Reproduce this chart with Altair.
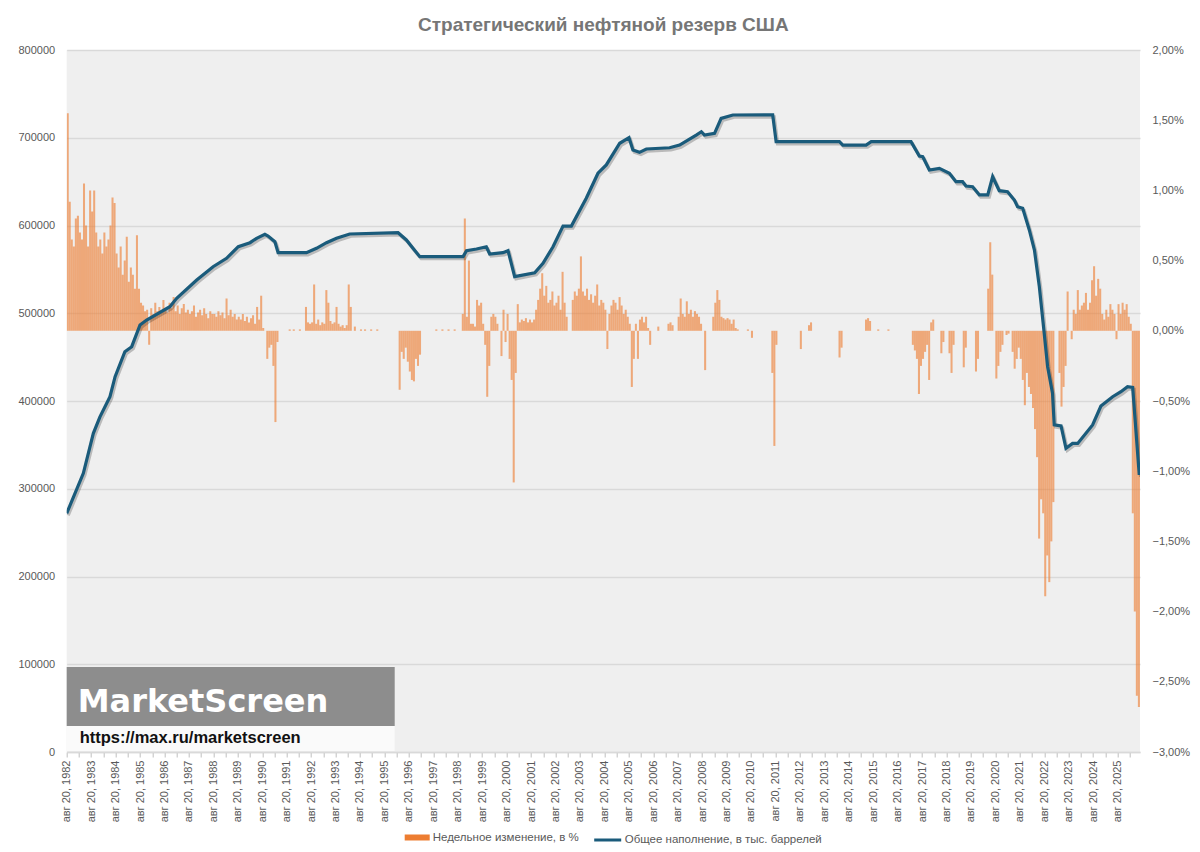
import altair as alt
import pandas as pd

FONT = "Liberation Sans"
TITLE = "Стратегический нефтяной резерв США"
BAR_NAME = "Недельное изменение, в %"
LINE_NAME = "Общее наполнение, в тыс. баррелей"
BAR_COLOR = "#ED7D31"
LINE_COLOR = "#1A5B7B"
LABEL_COLOR = "#595959"

# total SPR level (thousand barrels); time as decimal year (Aug 20, 1982 = 1982.64)
LINE_T = [1982.64, 1983.32, 1983.73, 1984.00, 1984.41, 1984.62, 1985.02, 1985.30, 1985.64, 1985.91,
          1986.86, 1987.14, 1987.96, 1988.63, 1989.18, 1989.66, 1990.14, 1990.41, 1990.75, 1990.88,
          1991.16, 1991.29, 1992.45, 1992.86, 1993.27, 1993.68, 1994.22, 1996.20, 1996.54, 1996.81,
          1997.09, 1998.86, 1999.00, 1999.41, 1999.81, 1999.95, 2000.49, 2000.70, 2000.97, 2001.79,
          2002.13, 2002.54, 2002.95, 2003.29, 2003.90, 2004.38, 2004.72, 2005.27, 2005.65, 2005.81,
          2006.08, 2006.36, 2007.31, 2007.72, 2008.40, 2008.61, 2008.74, 2009.15, 2009.42, 2009.90,
          2011.53, 2011.67, 2014.26, 2014.40, 2015.35, 2015.56, 2017.19, 2017.53, 2017.67, 2017.94,
          2018.35, 2018.76, 2019.03, 2019.30, 2019.44, 2019.71, 2019.99, 2020.33, 2020.53, 2020.80,
          2021.14, 2021.42, 2021.55, 2021.76, 2022.03, 2022.24, 2022.44, 2022.64, 2022.78, 2022.98,
          2023.05, 2023.33, 2023.53, 2023.80, 2024.01, 2024.62, 2024.96, 2025.44, 2025.78, 2026.05,
          2026.26, 2026.53]
LINE_V = [272000, 317600, 363200, 382000, 405000, 427700, 456200, 461900, 486600, 492300,
          507500, 517000, 537900, 553000, 562600, 575800, 580400, 585400, 590000, 588000,
          581500, 569000, 569000, 574000, 580400, 585400, 590300, 591800, 583500, 574000,
          564500, 564500, 571300, 573200, 575800, 567500, 569000, 571300, 541700, 546200,
          556900, 575800, 599400, 599400, 631000, 659600, 669000, 693700, 700000, 686000,
          683400, 687200, 688600, 691700, 703100, 706900, 703100, 705000, 722000, 725900,
          726000, 695500, 695500, 691700, 691700, 695500, 695500, 679200, 678400, 663200,
          665100, 659600, 649900, 649900, 645000, 644200, 634800, 634800, 655600, 639700,
          638500, 629000, 621400, 619600, 594900, 572100, 530300, 477100, 439100, 408800,
          372700, 371500, 346100, 351700, 351700, 372700, 394300, 404900, 410600, 416300,
          415600, 315700]

# weekly change, %, read as one value per month, one row per year starting at Aug 20
BAR_START = 1982.64
BAR_PCT = [
    [1.55, 0.92, 0.65, 0.6, 0.8, 0.82, 0.7, 0.65, 1.05, 0.75, 0.6, 1.0],
    [0.85, 1.0, 0.7, 0.6, 0.65, 0.55, 0.7, 0.6, 0.65, 0.75, 0.95, 0.91],
    [0.55, 0.45, 0.6, 0.4, 0.5, 0.67, 0.35, 0.45, 0.4, 0.3, 0.68, 0.3],
    [0.2, 0.18, 0.14, 0.15, -0.1, 0.16, 0.12, 0.2, 0.14, 0.17, 0.13, 0.22],
    [0.15, 0.13, 0.2, 0.16, 0.24, 0.14, 0.18, 0.12, 0.16, 0.19, 0.13, 0.15],
    [0.12, 0.14, 0.18, 0.1, 0.13, 0.15, 0.11, 0.16, 0.12, 0.09, 0.14, 0.12],
    [0.12, 0.1, 0.14, 0.11, 0.13, 0.09, 0.23, 0.11, 0.15, 0.1, 0.12, 0.08],
    [0.1, 0.08, 0.12, 0.07, 0.1, 0.06, 0.09, 0.11, 0.05, 0.17, 0.08, 0.25],
    [0.02, 0.0, -0.2, -0.12, -0.1, -0.25, -0.65, -0.08, 0.0, 0.0, 0.0, 0.0],
    [0.0, 0.01, 0.0, 0.01, 0.0, 0.0, 0.01, 0.0, 0.0, 0.17, 0.06, 0.05],
    [0.06, 0.33, 0.05, 0.08, 0.04, 0.06, 0.05, 0.29, 0.2, 0.07, 0.05, 0.06],
    [0.17, 0.05, 0.03, 0.04, 0.02, 0.04, 0.33, 0.17, 0.0, 0.03, 0.0, 0.0],
    [0.01, 0.0, 0.01, 0.0, 0.0, 0.01, 0.0, 0.0, 0.01, 0.0, 0.0, 0.0],
    [0.0, 0.0, 0.0, 0.0, 0.0, 0.0, 0.0, -0.42, -0.15, -0.2, -0.12, -0.22],
    [-0.29, -0.35, -0.36, -0.2, -0.25, -0.17, 0.0, 0.0, 0.0, 0.0, 0.0, 0.0],
    [0.0, 0.01, 0.0, 0.0, 0.01, 0.0, 0.0, 0.01, 0.0, 0.0, 0.01, 0.0],
    [0.0, 0.0, 0.12, 0.8, 0.1, 0.5, 0.05, 0.05, 0.03, 0.22, 0.18, 0.2],
    [0.05, -0.1, -0.47, -0.25, 0.1, 0.12, 0.1, 0.05, 0.0, -0.18, 0.15, -0.08],
    [0.12, -0.2, -0.35, -1.08, -0.3, 0.19, 0.06, 0.08, 0.07, 0.09, 0.06, 0.08],
    [0.06, 0.08, 0.15, 0.22, 0.3, 0.41, 0.25, 0.32, 0.2, 0.22, 0.28, 0.18],
    [0.2, 0.25, 0.15, 0.42, 0.2, 0.1, 0.0, 0.0, 0.22, 0.28, 0.25, 0.3],
    [0.53, 0.28, 0.25, 0.3, 0.22, 0.26, 0.2, 0.25, 0.33, 0.18, 0.22, 0.2],
    [0.15, -0.13, 0.12, 0.18, 0.22, 0.2, 0.15, 0.24, 0.18, 0.12, 0.15, 0.1],
    [0.05, -0.4, -0.2, 0.05, -0.2, 0.08, 0.1, 0.06, 0.1, 0.02, -0.1, 0.0],
    [0.0, 0.0, 0.03, 0.0, 0.0, 0.0, 0.0, 0.05, 0.06, 0.04, 0.0, 0.0],
    [0.1, 0.23, 0.12, 0.1, 0.21, 0.12, 0.15, 0.1, 0.14, 0.12, 0.1, 0.05],
    [0.0, -0.28, 0.0, 0.0, 0.0, 0.1, 0.2, 0.29, 0.22, 0.1, 0.09, 0.08],
    [0.09, 0.08, 0.05, 0.08, 0.02, 0.01, 0.0, 0.0, 0.0, 0.0, 0.01, 0.0],
    [-0.05, 0.0, 0.0, 0.0, 0.0, 0.0, 0.0, 0.0, 0.0, 0.0, -0.3, -0.82],
    [-0.1, 0.0, 0.0, 0.0, 0.0, 0.0, 0.0, 0.0, 0.0, 0.0, 0.0, 0.0],
    [-0.13, 0.0, 0.0, 0.0, 0.04, 0.06, 0.0, 0.0, 0.0, 0.0, 0.0, 0.0],
    [0.0, 0.0, 0.0, 0.0, 0.0, 0.0, 0.0, -0.19, -0.12, 0.0, 0.0, 0.0],
    [0.0, 0.0, 0.0, 0.0, 0.0, 0.0, 0.0, 0.0, 0.08, 0.09, 0.07, 0.0],
    [0.0, 0.0, 0.01, 0.0, 0.0, 0.0, 0.0, 0.01, 0.0, 0.0, 0.0, 0.0],
    [0.0, 0.0, 0.0, 0.0, 0.0, 0.0, 0.0, -0.1, -0.14, -0.2, -0.45, -0.25],
    [-0.2, -0.15, -0.1, -0.35, 0.06, 0.08, 0.0, 0.0, 0.0, -0.16, -0.08, 0.0],
    [0.0, -0.16, -0.3, -0.1, 0.0, 0.0, 0.0, 0.0, -0.26, -0.12, 0.0, 0.0],
    [0.0, 0.0, -0.29, -0.2, 0.0, 0.0, 0.0, 0.0, 0.3, 0.63, 0.4, 0.0],
    [-0.34, -0.25, -0.15, -0.1, 0.0, -0.03, -0.02, 0.0, -0.15, -0.27, -0.2, -0.12],
    [-0.2, -0.35, -0.53, -0.3, -0.4, -0.45, -0.55, -0.7, -0.9, -1.48, -1.2, -1.3],
    [-1.89, -1.6, -1.79, -1.5, -1.22, 0.0, 0.0, -0.3, -0.54, -0.4, -0.25, 0.28],
    [0.0, -0.06, 0.15, 0.12, 0.29, 0.15, 0.18, 0.2, 0.27, 0.15, 0.2, 0.36],
    [0.46, 0.25, 0.37, 0.3, 0.12, 0.08, 0.15, 0.1, 0.19, 0.15, 0.12, -0.06],
    [0.19, 0.12, 0.2, 0.15, 0.19, 0.1, 0.05, -1.3, -2.0, -2.6, -2.68],
]

LEFT_TICKS = [0, 100000, 200000, 300000, 400000, 500000, 600000, 700000, 800000]
RIGHT_TICKS = [-3.0, -2.5, -2.0, -1.5, -1.0, -0.5, 0.0, 0.5, 1.0, 1.5, 2.0]
X_DOMAIN = [1982.64, 2026.56]
X_TICKS = [round(1982.64 + 0.5 * k, 2) for k in range(88)]

line_df = pd.DataFrame({"t": LINE_T, "v": LINE_V, "series": LINE_NAME})
rows = []
for yi, months in enumerate(BAR_PCT):
    for mi, val in enumerate(months):
        t = BAR_START + yi + mi / 12
        rows.append({"t": t, "t2": t + 1 / 12, "pct": val, "series": BAR_NAME})
bar_df = pd.DataFrame(rows)

x_scale = alt.Scale(domain=X_DOMAIN, nice=False, zero=False)
x_axis = alt.Axis(
    values=X_TICKS,
    labelExpr="abs(datum.value - 1982.64 - round(datum.value - 1982.64)) < 0.01 ? 'авг 20, ' + round(datum.value - 0.64) : ''",
    labelAngle=270, labelAlign="right", labelBaseline="middle", labelFontSize=11,
    labelColor=LABEL_COLOR, labelFont=FONT, labelOverlap=False, labelFlush=False, labelBound=False,
    labelPadding=3, tickColor="#bfbfbf", tickSize=5, domainColor="#d9d9d9", domainWidth=1.5,
    grid=False, title=None,
)
y_left_scale = alt.Scale(domain=[0, 800000], nice=False)
y_left_axis = alt.Axis(orient="left", values=LEFT_TICKS, format="d", grid=True, gridColor="#d9d9d9",
                       gridWidth=1.5, domain=False, ticks=False, labelPadding=12, labelFontSize=11,
                       labelColor=LABEL_COLOR, labelFont=FONT, title=None)

bars = alt.Chart(bar_df).mark_bar(clip=True, fillOpacity=0.62, strokeWidth=0).encode(
    x=alt.X("t:Q", scale=x_scale, axis=x_axis),
    x2="t2:Q",
    y=alt.Y("pct:Q", scale=alt.Scale(domain=[-3, 2], nice=False, zero=False),
            axis=alt.Axis(orient="right", values=RIGHT_TICKS, grid=False, domain=False, ticks=False,
                          labelPadding=12, labelFontSize=11, labelColor=LABEL_COLOR, labelFont=FONT,
                          labelExpr="replace(format(datum.value, '.2f'), '.', ',') + '%'", title=None)),
    y2=alt.datum(0),
    fill=alt.Fill("series:N", scale=alt.Scale(domain=[BAR_NAME], range=[BAR_COLOR]),
                  legend=alt.Legend(title=None, orient="none", legendX=338, legendY=775,
                                    symbolType="M-1,-0.24H1V0.24H-1Z", symbolSize=625, symbolOpacity=1,
                                    symbolStrokeWidth=0, labelFontSize=11.5, labelColor=LABEL_COLOR,
                                    labelFont=FONT, labelOffset=3, labelLimit=400)),
)

# soft drop shadow under the line (same data, nudged right/down)
shadow = alt.Chart(line_df).transform_calculate(
    ts="datum.t + 0.06", vs="datum.v - 2300"
).mark_line(strokeWidth=3.4, clip=True, color="#000000", opacity=0.22).encode(
    x=alt.X("ts:Q", scale=x_scale, axis=x_axis),
    y=alt.Y("vs:Q", scale=y_left_scale, axis=y_left_axis),
)

line = alt.Chart(line_df).mark_line(strokeWidth=3.2, clip=True).encode(
    x=alt.X("t:Q", scale=x_scale, axis=x_axis),
    y=alt.Y("v:Q", scale=y_left_scale, axis=y_left_axis),
    stroke=alt.Stroke("series:N", scale=alt.Scale(domain=[LINE_NAME], range=[LINE_COLOR]),
                      legend=alt.Legend(title=None, orient="none", legendX=526, legendY=775,
                                        symbolType="stroke", symbolSize=729, symbolStrokeWidth=3,
                                        labelFontSize=11.5, labelColor=LABEL_COLOR, labelFont=FONT,
                                        labelOffset=2, labelLimit=400)),
)

lines = alt.layer(shadow, line)

one = alt.Data(values=[{"k": 1}])
wm_box = alt.Chart(one).mark_rect(color="#8d8d8d").encode(
    x=alt.value(0), x2=alt.value(328), y=alt.value(617), y2=alt.value(676))
wm_strip = alt.Chart(one).mark_rect(color="#fafafa").encode(
    x=alt.value(0), x2=alt.value(328), y=alt.value(676), y2=alt.value(701))
wm_text = alt.Chart(one).mark_text(align="left", baseline="alphabetic", font="DejaVu Sans",
                                   fontWeight="bold", fontSize=32, color="white").encode(
    x=alt.value(11), y=alt.value(662), text=alt.value("MarketScreen"))
wm_url = alt.Chart(one).mark_text(align="left", baseline="alphabetic", font=FONT,
                                  fontWeight="bold", fontSize=16.5, color="#111111").encode(
    x=alt.value(13), y=alt.value(693), text=alt.value("https://max.ru/marketscreen"))

chart = alt.layer(bars, lines, wm_box, wm_strip, wm_text, wm_url).resolve_scale(
    y="independent"
).properties(
    width=1073.3, height=702,
    autosize=alt.AutoSizeParams(type="none"),
    padding={"left": 58.7, "top": 42, "right": 52, "bottom": 100},
    title=alt.TitleParams(TITLE, font=FONT, fontSize=19, fontWeight="bold", color="#767676",
                          anchor="middle", frame="group", offset=20, baseline="alphabetic", dy=26),
).configure_view(fill="#efefef", strokeWidth=0)

chart.save("out.html", embed_options={"renderer": "svg", "actions": False})
